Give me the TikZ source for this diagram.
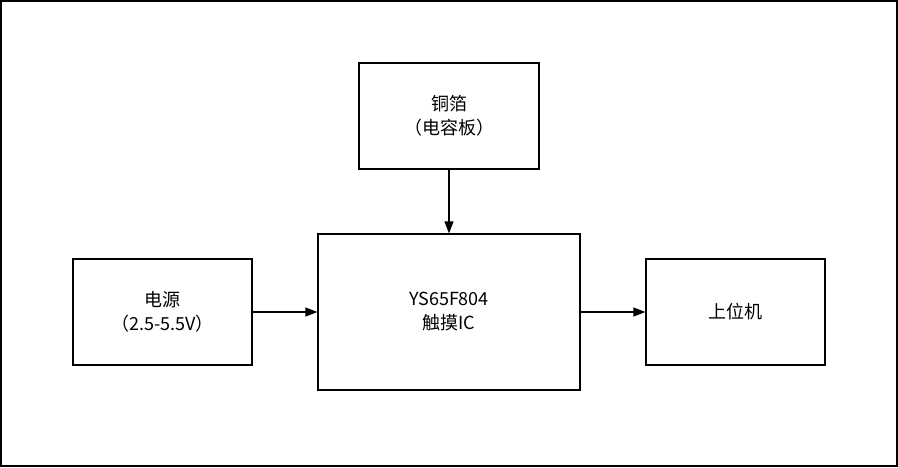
\documentclass[tikz,border=0pt]{standalone}
\usepackage{fontspec}
\setmainfont{Noto Sans CJK SC}
\usetikzlibrary{arrows.meta}
\begin{document}
\begin{tikzpicture}[x=1pt,y=-1pt,
  box/.style={draw,line width=1.2pt,align=center,font=\fontsize{18}{24}\selectfont,inner sep=0pt},
  arr/.style={line width=1.2pt,-{Triangle[length=12pt,width=9pt]}}]
\draw[line width=1.2pt] (1,1) rectangle (897,466);
\useasboundingbox (0,0) rectangle (898,467);
\node[box,minimum width=180pt,minimum height=106pt] (cu) at (449,116) {铜箔\\（电容板）};
\node[box,minimum width=262pt,minimum height=156pt] (ic) at (449,312) {YS65F804\\触摸IC};
\node[box,minimum width=179pt,minimum height=106pt] (pw) at (162.5,312) {电源\\（2.5-5.5V）};
\node[box,minimum width=179pt,minimum height=106pt] (host) at (735.5,312) {上位机};
\draw[arr] (cu) -- (ic);
\draw[arr] (pw) -- (ic);
\draw[arr] (ic) -- (host);
\end{tikzpicture}
\end{document}
